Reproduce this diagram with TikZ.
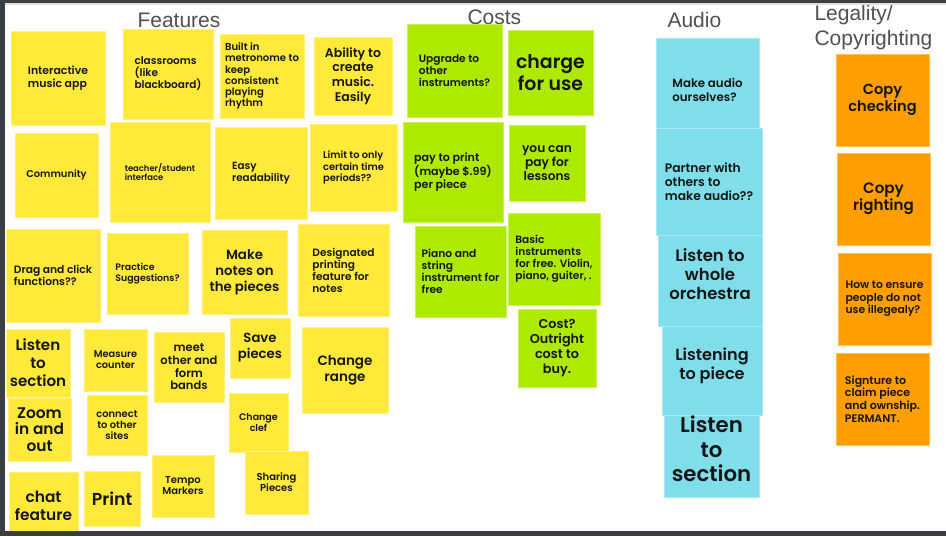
\documentclass[tikz,border=0pt]{standalone}
\usepackage{fontspec}
\setmainfont{Liberation Sans}
\newfontfamily\notefont{Poppins}[BoldFont={Poppins SemiBold}]
\usepackage{xcolor}
\usepackage{tikz}

\definecolor{noteyellow}{HTML}{FFEA3B}
\definecolor{notelime}{HTML}{AEEA00}
\definecolor{notecyan}{HTML}{80DEEA}
\definecolor{noteorange}{HTML}{FF9E00}
\definecolor{notetext}{HTML}{151515}
\definecolor{titlegray}{HTML}{505050}
\definecolor{framegray}{HTML}{3C3F42}

\tikzset{
  sticky/.style={fill=#1, draw=#1!65!white, line width=0.6pt},
  fs/.style 2 args={font=\notefont\bfseries\fontsize{#1}{#2}\selectfont, text=notetext},
  title/.style={font=\fontsize{21}{25}\selectfont, text=titlegray, anchor=base west},
}

\begin{document}
\begin{tikzpicture}[x=1pt, y=-1pt]
                \useasboundingbox (0,0) rectangle (946,536);
                \fill[white] (0,0) rectangle (946,536);

                % column titles
                \node[title] (features) at (134,27) {Features};
                \node[title] (costs) at (464,24) {Costs};
                \node[title] (audio) at (664,27) {Audio};
                \node[title] (legal1) at (811,20) {Legality/};
                \node[title] (legal2) at (811,45) {Copyrighting};

                % features
                \draw[sticky=noteyellow] (11,31) rectangle (105,125) node[midway, align=left, fs={10.9}{13}] (intapp) {Interactive\\music app};
                \draw[sticky=noteyellow] (123,29) rectangle (213,119) node[midway, align=left, fs={10.5}{12}] (classrooms) {classrooms\\(like\\blackboard)};
                \draw[sticky=noteyellow] (220,34) rectangle (304,118) node[midway, align=left, fs={10.1}{11.2}] (metronome) {Built in\\metronome to\\keep\\consistent\\playing\\rhythm};
                \draw[sticky=noteyellow] (314,37) rectangle (392,115) node[midway, align=center, fs={12.5}{14.7}] (create) {Ability to\\create\\music.\\Easily};
                \draw[sticky=noteyellow] (15,133) rectangle (98,217) node[midway, align=center, fs={9.9}{12}] (community) {Community};
                \draw[sticky=noteyellow] (110,122) rectangle (210,222) node[midway, align=left, fs={8.4}{9}] (teacher) {teacher/student\\interface};
                \draw[sticky=noteyellow] (215,127) rectangle (307,219) node[midway, align=left, fs={10.4}{12}] (readability) {Easy\\readability};
                \draw[sticky=noteyellow] (310,124) rectangle (397,211) node[midway, align=left, fs={9.8}{11.5}] (periods) {Limit to only\\certain time\\periods??};
                \draw[sticky=noteyellow] (6,229) rectangle (100,322) node[midway, align=left, fs={10.7}{12}] (dragclick) {Drag and click\\functions??};
                \draw[sticky=noteyellow] (107,233) rectangle (188,314) node[midway, align=left, fs={9.4}{11}] (practice) {Practice\\Suggestions?};
                \draw[sticky=noteyellow] (202,230) rectangle (287,314) node[midway, align=center, fs={13.3}{16}] (notes) {Make\\notes on\\the pieces};
                \draw[sticky=noteyellow] (298,224) rectangle (389,316) node[midway, align=left, fs={10.6}{12}] (printing) {Designated\\printing\\feature for\\notes};
                \draw[sticky=noteyellow] (6,329) rectangle (70,397) node[midway, align=center, fs={15.1}{18}] (listensec) {Listen\\to\\section};
                \draw[sticky=noteyellow] (84,329) rectangle (147,391) node[midway, align=center, fs={9.8}{11}] (measure) {Measure\\counter};
                \draw[sticky=noteyellow] (154,332) rectangle (224,402) node[midway, align=center, fs={11.5}{12.7}] (bands) {meet\\other and\\form\\bands};
                \draw[sticky=noteyellow] (230,318) rectangle (290,378) node[midway, align=center, fs={13.2}{16}] (save) {Save\\pieces};
                \draw[sticky=noteyellow] (302,327) rectangle (388,413) node[midway, align=center, fs={13.5}{16}] (range) {Change\\range};
                \draw[sticky=noteyellow] (8,398) rectangle (71,461) node[midway, align=center, fs={15.4}{16.5}] (zoom) {Zoom\\in and\\out};
                \draw[sticky=noteyellow] (87,395) rectangle (147,455) node[midway, align=center, fs={9.9}{11}] (connect) {connect\\to other\\sites};
                \draw[sticky=noteyellow] (229,393) rectangle (288,452) node[midway, align=center, fs={9.5}{11}] (clef) {Change\\clef};
                \draw[sticky=noteyellow] (245,451) rectangle (308,514) node[midway, align=center, fs={10}{11}] (sharing) {Sharing\\Pieces};
                \draw[sticky=noteyellow] (152,455) rectangle (214,517) node[midway, align=center, fs={10}{11}] (tempo) {Tempo\\Markers};
                \draw[sticky=noteyellow] (9,472) rectangle (78,533) node[midway, yshift=-3pt, align=center, fs={15.4}{18}] (chat) {chat\\feature};
                \draw[sticky=noteyellow] (84,471) rectangle (140,526) node[midway, align=center, fs={17.3}{20}] (print) {Print};

                % costs
                \draw[sticky=notelime] (407,24) rectangle (502,117) node[midway, align=left, fs={10.6}{12}] (upgrade) {Upgrade to\\other\\instruments?};
                \draw[sticky=notelime] (508,30) rectangle (593,115) node[midway, align=center, fs={18.9}{22}] (charge) {charge\\for use};
                \draw[sticky=notelime] (403,122) rectangle (503,222) node[midway, align=left, fs={11.1}{13}] (paytoprint) {pay to print\\(maybe \$.99)\\per piece};
                \draw[sticky=notelime] (509,125) rectangle (585,201) node[midway, align=center, fs={12.2}{14}] (lessons) {you can\\pay for\\lessons};
                \draw[sticky=notelime] (415,226) rectangle (506,317) node[midway, align=left, fs={10.7}{12}] (pianofree) {Piano and\\string\\instrument for\\free};
                \draw[sticky=notelime] (508,213) rectangle (600,305) node[midway, align=left, fs={10.6}{12}] (basicfree) {Basic\\instruments\\for free. Violin,\\piano, guiter, .};
                \draw[sticky=notelime] (518,309) rectangle (596,387) node[midway, align=center, fs={12.8}{15}] (outright) {Cost?\\Outright\\cost to\\buy.};

                % audio
                \draw[sticky=notecyan] (656,38) rectangle (759,128) node[midway, yshift=-6.5pt, align=left, fs={11.8}{14}] (ownaudio) {Make audio\\ourselves?};
                \draw[sticky=notecyan] (656,128) rectangle (762,235) node[midway, align=left, fs={12.3}{14}] (partner) {Partner with\\others to\\make audio??};
                \draw[sticky=notecyan] (658,235) rectangle (762,326) node[midway, yshift=6.5pt, align=center, fs={16.5}{19}] (orchestra) {Listen to\\whole\\orchestra};
                \draw[sticky=notecyan] (662,326) rectangle (762,415) node[midway, yshift=5pt, align=center, fs={16.1}{19}] (piece) {Listening\\to piece};
                \draw[sticky=notecyan] (664,415) rectangle (759,497) node[midway, yshift=7pt, align=center, fs={21.3}{24.5}] (section) {Listen\\to\\section};

                % legality
                \draw[sticky=noteorange] (836,54) rectangle (929,146) node[midway, align=center, fs={14.6}{17}] (checking) {Copy\\checking};
                \draw[sticky=noteorange] (837,153) rectangle (930,245) node[midway, align=center, fs={15.1}{17}] (righting) {Copy\\righting};
                \draw[sticky=noteorange] (838,253) rectangle (931,345) node[midway, align=left, fs={10.8}{12.5}] (illegal) {How to ensure\\people do not\\use illegealy?};
                \draw[sticky=noteorange] (836,353) rectangle (929,445) node[midway, align=left, fs={11}{12.7}] (signature) {Signture to\\claim piece\\and ownship.\\PERMANT.};

                % window frame
                \fill[black!12] (0,3) rectangle (946,5);
                \fill[framegray] (0,0) rectangle (946,3);
                \fill[framegray] (0,0) rectangle (5,536);
                \fill[framegray] (0,531) rectangle (946,536);
\end{tikzpicture}
\end{document}
